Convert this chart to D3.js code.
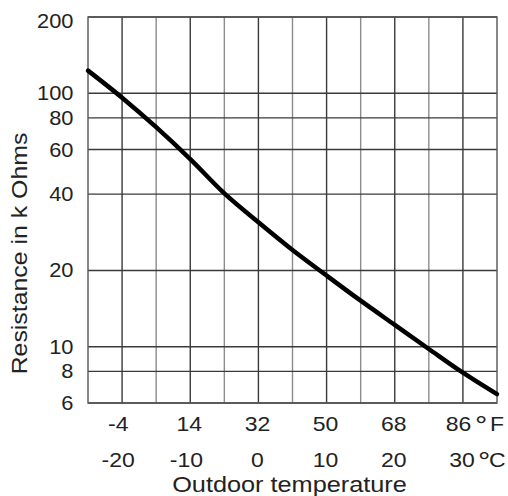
<!DOCTYPE html>
<html>
<head>
<meta charset="utf-8">
<script src="https://cdn.jsdelivr.net/npm/d3@7"></script>
<style>
  html, body { margin: 0; padding: 0; background: #fff; }
  svg { display: block; }
  text { font-family: "Liberation Sans", Arial, Helvetica, sans-serif; fill: #222; }
</style>
</head>
<body>
<svg id="chart" width="508" height="496"></svg>
<script>
// ---- data ----
const tempC = [-25, -20, -15, -10, -5, 0, 5, 10, 15, 20, 25, 30, 35];
const resistance = [122.9, 96.1, 73.5, 55.0, 40.3, 31.0, 24.1, 19.1, 15.2, 12.2, 9.8, 7.9, 6.5];
const yTicks = [6, 8, 10, 20, 40, 60, 80, 100, 200];
const xTicksC = [-20, -10, 0, 10, 20, 30];
const xLabelsF = ["-4", "14", "32", "50", "68", "86"];
const xMinorC = [-15, -5, 5, 15, 25];
const yTitle = "Resistance in k Ohms";
const xTitle = "Outdoor temperature";

// ---- layout ----
const mL = 88, mR = 497, mT = 17, mB = 403;

const svg = d3.select("#chart");
const x = d3.scaleLinear().domain([-25, 35]).range([mL, mR]);
const y = d3.scaleLog().domain([6, 200]).range([mB, mT]);

// minor vertical grid
svg.append("g").selectAll("line").data(xMinorC).join("line")
  .attr("x1", d => x(d)).attr("x2", d => x(d))
  .attr("y1", mT).attr("y2", mB)
  .attr("stroke", "#8c8c8c").attr("stroke-width", 1.4);

// major vertical grid
svg.append("g").selectAll("line").data(xTicksC).join("line")
  .attr("x1", d => x(d)).attr("x2", d => x(d))
  .attr("y1", mT).attr("y2", mB)
  .attr("stroke", "#3a3a3a").attr("stroke-width", 1.4);

// horizontal grid
svg.append("g").selectAll("line").data(yTicks).join("line")
  .attr("x1", mL).attr("x2", mR)
  .attr("y1", d => y(d)).attr("y2", d => y(d))
  .attr("stroke", "#3a3a3a").attr("stroke-width", 1.4);

// frame
svg.append("rect")
  .attr("x", mL).attr("y", mT)
  .attr("width", mR - mL).attr("height", mB - mT)
  .attr("fill", "none").attr("stroke", "#555").attr("stroke-width", 1.4);

// curve
const pts = tempC.map((t, i) => [t, resistance[i]]);
svg.append("path")
  .datum(pts)
  .attr("fill", "none")
  .attr("stroke", "#000")
  .attr("stroke-width", 4.5)
  .attr("stroke-linecap", "round")
  .attr("d", d3.line().x(d => x(d[0])).y(d => y(d[1])).curve(d3.curveCatmullRom.alpha(0.5)));

// y tick labels
svg.append("g").selectAll("text").data(yTicks).join("text")
  .attr("transform", d => `translate(73.5,${y(d) + (d === 200 ? 4 : 0)}) scale(1.12,1)`)
  .attr("text-anchor", "end")
  .attr("dy", "0.36em")
  .attr("font-size", 19.5)
  .text(d => d);

// x tick labels: digits centred on the gridline, minus sign hangs to the left
function xRow(labels, baseline, lastShift) {
  const g = svg.append("g");
  labels.forEach((lab, i) => {
    const s = String(lab);
    const neg = s.startsWith("-");
    const digits = neg ? s.slice(1) : s;
    let cx = x(xTicksC[i]) - (neg ? 0 : 1);
    if (i === labels.length - 1) cx -= lastShift;
    const t = g.append("text")
      .attr("transform", `translate(${cx},${baseline}) scale(1.15,1)`)
      .attr("text-anchor", "middle")
      .attr("font-size", 20)
      .text(digits);
    if (neg) {
      const w = t.node().getComputedTextLength() * 1.15;
      g.append("text")
        .attr("transform", `translate(${cx - w / 2},${baseline}) scale(1.15,1)`)
        .attr("text-anchor", "end")
        .attr("font-size", 20)
        .text("-");
    }
  });
}
xRow(xLabelsF, 431, 3.5);
xRow(xTicksC, 466.5, 0);

// units
function unit(letter, xd, xl, baseline) {
  svg.append("text").attr("transform", `translate(${xd},${baseline + 4}) scale(1.1,1)`)
    .attr("font-size", 28).text("°");
  svg.append("text").attr("transform", `translate(${xl},${baseline}) scale(1.15,1)`)
    .attr("font-size", 20).text(letter);
}
unit("F", 475, 490, 431);
unit("C", 478, 489, 466.5);

// x title
svg.append("text")
  .attr("transform", `translate(289.5,492) scale(1.15,1)`)
  .attr("text-anchor", "middle")
  .attr("font-size", 22)
  .text(xTitle);

// y title
svg.append("text")
  .attr("transform", `translate(26.5,253.5) rotate(-90) scale(1.13,1)`)
  .attr("text-anchor", "middle")
  .attr("font-size", 22)
  .text(yTitle);
</script>
</body>
</html>
